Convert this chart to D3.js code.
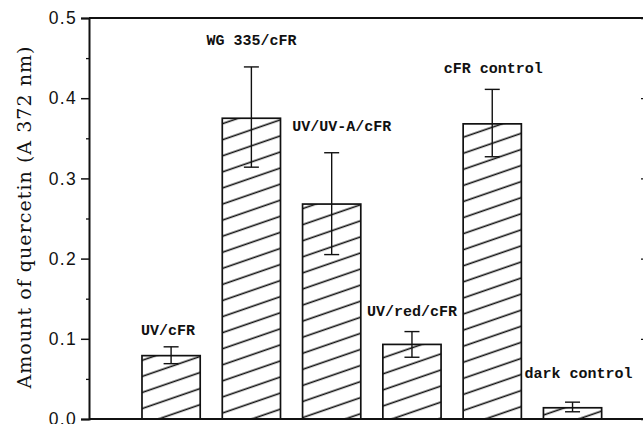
<!DOCTYPE html>
<html>
<head>
<meta charset="utf-8">
<script src="https://cdn.jsdelivr.net/npm/d3@7"></script>
<style>
  body { margin: 0; background: #fff; }
  svg { display: block; }
</style>
</head>
<body>
<script>
// data
const categories = ["UV/cFR", "WG 335/cFR", "UV/UV-A/cFR", "UV/red/cFR", "cFR control", "dark control"];
const means = [0.079, 0.375, 0.268, 0.093, 0.368, 0.014];
const errLow = [0.069, 0.314, 0.205, 0.077, 0.327, 0.009];
const errHigh = [0.090, 0.439, 0.332, 0.109, 0.411, 0.021];
const majorTicks = [0, 0.1, 0.2, 0.3, 0.4, 0.5];
const minorTicks = [0.05, 0.15, 0.25, 0.35, 0.45];
const yTitle = "Amount of quercetin (A 372 nm)";

// label nudges (px) relative to bar centre / top of error bar
const labelDx = [-3, 0, 10, 0, 1, 6];
const labelDy = [-12, -22, -22, -16, -16, -24];

const width = 643,
  height = 424;
const margin = { top: 18, right: -2, bottom: 5, left: 89 };

const svg = d3
  .select("body")
  .append("svg")
  .attr("width", width)
  .attr("height", height);

const x = d3
  .scaleBand()
  .domain(categories)
  .range([margin.left, width - margin.right])
  .paddingInner(0.275)
  .paddingOuter(0.6)
  .align(0.55);

const y = d3
  .scaleLinear()
  .domain([0, 0.5])
  .range([height - margin.bottom, margin.top]);

// hatch pattern
const pat = svg
  .append("defs")
  .append("pattern")
  .attr("id", "hatch")
  .attr("patternUnits", "userSpaceOnUse")
  .attr("width", 10)
  .attr("height", 15.2)
  .attr("patternTransform", "rotate(-19)");
pat.append("rect").attr("width", 10).attr("height", 15.2).attr("fill", "#fff");
pat
  .append("line")
  .attr("x1", 0)
  .attr("x2", 10)
  .attr("y1", 7)
  .attr("y2", 7)
  .attr("stroke", "#111")
  .attr("stroke-width", 1.6);

const data = categories.map((c, i) => ({
  name: c,
  mean: means[i],
  lo: errLow[i],
  hi: errHigh[i],
  dx: labelDx[i],
  dy: labelDy[i]
}));

// bars
svg
  .append("g")
  .selectAll("rect")
  .data(data)
  .join("rect")
  .attr("x", d => x(d.name))
  .attr("y", d => y(d.mean))
  .attr("width", x.bandwidth())
  .attr("height", d => y(0) - y(d.mean))
  .attr("fill", "url(#hatch)")
  .attr("stroke", "#111")
  .attr("stroke-width", 1.7);

// error bars
const eb = svg
  .append("g")
  .attr("stroke", "#111")
  .attr("stroke-width", 1.4)
  .selectAll("g")
  .data(data)
  .join("g")
  .attr("transform", d => `translate(${x(d.name) + x.bandwidth() / 2},0)`);
eb.append("line")
  .attr("y1", d => y(d.lo))
  .attr("y2", d => y(d.hi));
eb.append("line")
  .attr("x1", -7.5)
  .attr("x2", 7.5)
  .attr("y1", d => y(d.hi))
  .attr("y2", d => y(d.hi));
eb.append("line")
  .attr("x1", -7.5)
  .attr("x2", 7.5)
  .attr("y1", d => y(d.lo))
  .attr("y2", d => y(d.lo));

// bar labels
svg
  .append("g")
  .selectAll("text")
  .data(data)
  .join("text")
  .attr("x", d => x(d.name) + x.bandwidth() / 2 + d.dx)
  .attr("y", d => y(d.hi) + d.dy)
  .attr("text-anchor", "middle")
  .attr("font-family", "Liberation Mono, Courier New, monospace")
  .attr("font-weight", "bold")
  .attr("font-size", 15)
  .attr("fill", "#111")
  .text(d => d.name);

// frame lines top and bottom
svg
  .append("line")
  .attr("x1", margin.left)
  .attr("x2", width)
  .attr("y1", y(0.5))
  .attr("y2", y(0.5))
  .attr("stroke", "#111")
  .attr("stroke-width", 2);
svg
  .append("line")
  .attr("x1", margin.left)
  .attr("x2", width)
  .attr("y1", y(0))
  .attr("y2", y(0))
  .attr("stroke", "#111")
  .attr("stroke-width", 2);

// left axis
const yAxis = d3
  .axisLeft(y)
  .tickValues(majorTicks)
  .tickSize(8)
  .tickPadding(4)
  .tickFormat(d3.format(".1f"));

const gy = svg
  .append("g")
  .attr("transform", `translate(${margin.left},0)`)
  .call(yAxis);
gy.select(".domain").attr("stroke", "#111").attr("stroke-width", 2);
gy.selectAll(".tick line").attr("stroke", "#111").attr("stroke-width", 1.5);
gy.selectAll(".tick text")
  .attr("font-family", "Liberation Sans, Arial, sans-serif")
  .attr("font-size", 17.5)
  .attr("letter-spacing", 1.3)
  .attr("fill", "#111");

svg
  .append("g")
  .attr("transform", `translate(${margin.left},0)`)
  .call(d3.axisLeft(y).tickValues(minorTicks).tickSize(3).tickFormat(""))
  .call(g => g.select(".domain").remove())
  .selectAll(".tick line")
  .attr("stroke", "#111")
  .attr("stroke-width", 1.3);

// right axis ticks (axis line itself is off the edge)
svg
  .append("g")
  .attr("transform", `translate(${width + 2},0)`)
  .call(d3.axisLeft(y).tickValues(majorTicks).tickSize(-4).tickFormat(""))
  .call(g => g.select(".domain").remove())
  .selectAll(".tick line")
  .attr("x2", -4)
  .attr("stroke", "#111")
  .attr("stroke-width", 1.3);

// y title
svg
  .append("text")
  .attr("transform", `translate(31,${(y(0) + y(0.5)) / 2 - 1}) rotate(-90)`)
  .attr("text-anchor", "middle")
  .attr("font-family", "DejaVu Serif, Liberation Serif, serif")
  .attr("font-size", 19)
  .attr("textLength", 342)
  .attr("lengthAdjust", "spacing")
  .attr("fill", "#111")
  .text(yTitle);
</script>
</body>
</html>
